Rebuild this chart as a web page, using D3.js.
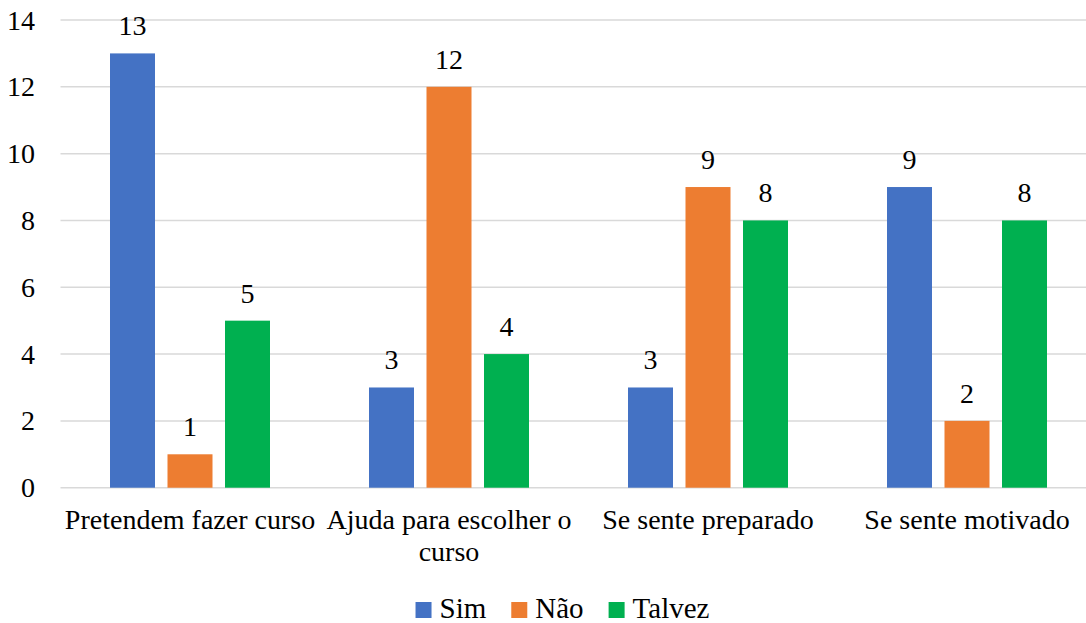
<!DOCTYPE html>
<html>
<head>
<meta charset="utf-8">
<script src="https://cdn.jsdelivr.net/npm/d3@7"></script>
<style>
  html, body { margin: 0; padding: 0; background: #fff; }
  svg { display: block; }
  svg text { font-family: "Liberation Serif", "Times New Roman", Times, Tinos, "Noto Serif", "DejaVu Serif", "FreeSerif", "Nimbus Roman", "Nimbus Roman No9 L", "Noto Serif CJK SC", serif; }
</style>
</head>
<body>
<svg id="chart" width="1086" height="623"></svg>
<script>
// Survey answers per question
const categories = ["Pretendem fazer curso", "Ajuda para escolher o curso", "Se sente preparado", "Se sente motivado"];
const categoryLines = [["Pretendem fazer curso"], ["Ajuda para escolher o", "curso"], ["Se sente preparado"], ["Se sente motivado"]];
const seriesNames = ["Sim", "Não", "Talvez"];
const sim = [13, 3, 3, 9];
const nao = [1, 12, 9, 2];
const talvez = [5, 4, 8, 8];
const yTicks = [0, 2, 4, 6, 8, 10, 12, 14];
const colors = ["#4472C4", "#ED7D31", "#00B050"];

const seriesValues = [sim, nao, talvez];
const rows = categories.map((c, i) => ({
  category: c,
  lines: categoryLines[i],
  values: seriesNames.map((s, j) => ({ series: s, value: seriesValues[j][i], color: colors[j] }))
}));

const svg = d3.select("#chart");
const plot = { left: 60.5, right: 1096.5, top: 20, bottom: 487.7 };

const x0 = d3.scaleBand().domain(categories).range([plot.left, plot.right]).padding(0);
const x1 = d3.scaleBand().domain(seriesNames)
  .range([49.5, x0.bandwidth() - 49.5]).paddingInner(0.2174).paddingOuter(0);
const y = d3.scaleLinear().domain([0, 14]).range([plot.bottom, plot.top]);

// Horizontal gridlines
svg.append("g").selectAll("line").data(yTicks).join("line")
  .attr("x1", plot.left).attr("x2", 1086)
  .attr("y1", d => y(d)).attr("y2", d => y(d))
  .attr("stroke", "#d9d9d9").attr("stroke-width", 1.5);

// Value axis labels
svg.append("g").selectAll("text").data(yTicks).join("text")
  .attr("x", 35).attr("y", d => y(d))
  .attr("dy", "0.34em")
  .attr("text-anchor", "end")
  .attr("font-size", 28)
  .attr("fill", "#000")
  .text(d => d);

// Bars and value labels
const groups = svg.append("g").selectAll("g").data(rows).join("g")
  .attr("transform", d => `translate(${x0(d.category)},0)`);

groups.selectAll("rect").data(d => d.values).join("rect")
  .attr("x", d => x1(d.series))
  .attr("width", x1.bandwidth())
  .attr("y", d => y(d.value))
  .attr("height", d => y(0) - y(d.value))
  .attr("fill", d => d.color);

groups.selectAll("text.val").data(d => d.values).join("text")
  .attr("class", "val")
  .attr("x", d => x1(d.series) + x1.bandwidth() / 2)
  .attr("y", d => y(d.value) - 18)
  .attr("text-anchor", "middle")
  .attr("font-size", 28)
  .attr("fill", "#000")
  .text(d => d.value);

// Category labels
const catLabels = svg.append("g").selectAll("text").data(rows).join("text")
  .attr("text-anchor", "middle")
  .attr("font-size", 28)
  .attr("fill", "#000")
  .attr("transform", d => `translate(${x0(d.category) + x0.bandwidth() / 2},529)`);
catLabels.selectAll("tspan").data(d => d.lines).join("tspan")
  .attr("x", 0)
  .attr("y", (d, i) => i * 32)
  .text(d => d);

// Legend
const legend = svg.append("g");
const items = legend.selectAll("g").data(seriesNames).join("g");
items.append("rect")
  .attr("y", 602).attr("width", 16).attr("height", 16)
  .attr("fill", (d, i) => colors[i]);
items.append("text")
  .attr("x", 24).attr("y", 618)
  .attr("font-size", 29)
  .attr("fill", "#000")
  .text(d => d);
let cursor = 0;
items.each(function () {
  const g = d3.select(this);
  g.attr("transform", `translate(${cursor},0)`);
  const w = 24 + g.select("text").node().getComputedTextLength();
  cursor += w + 25;
});
const legendWidth = cursor - 25;
legend.attr("transform", `translate(${562.5 - legendWidth / 2},0)`);
</script>
</body>
</html>
